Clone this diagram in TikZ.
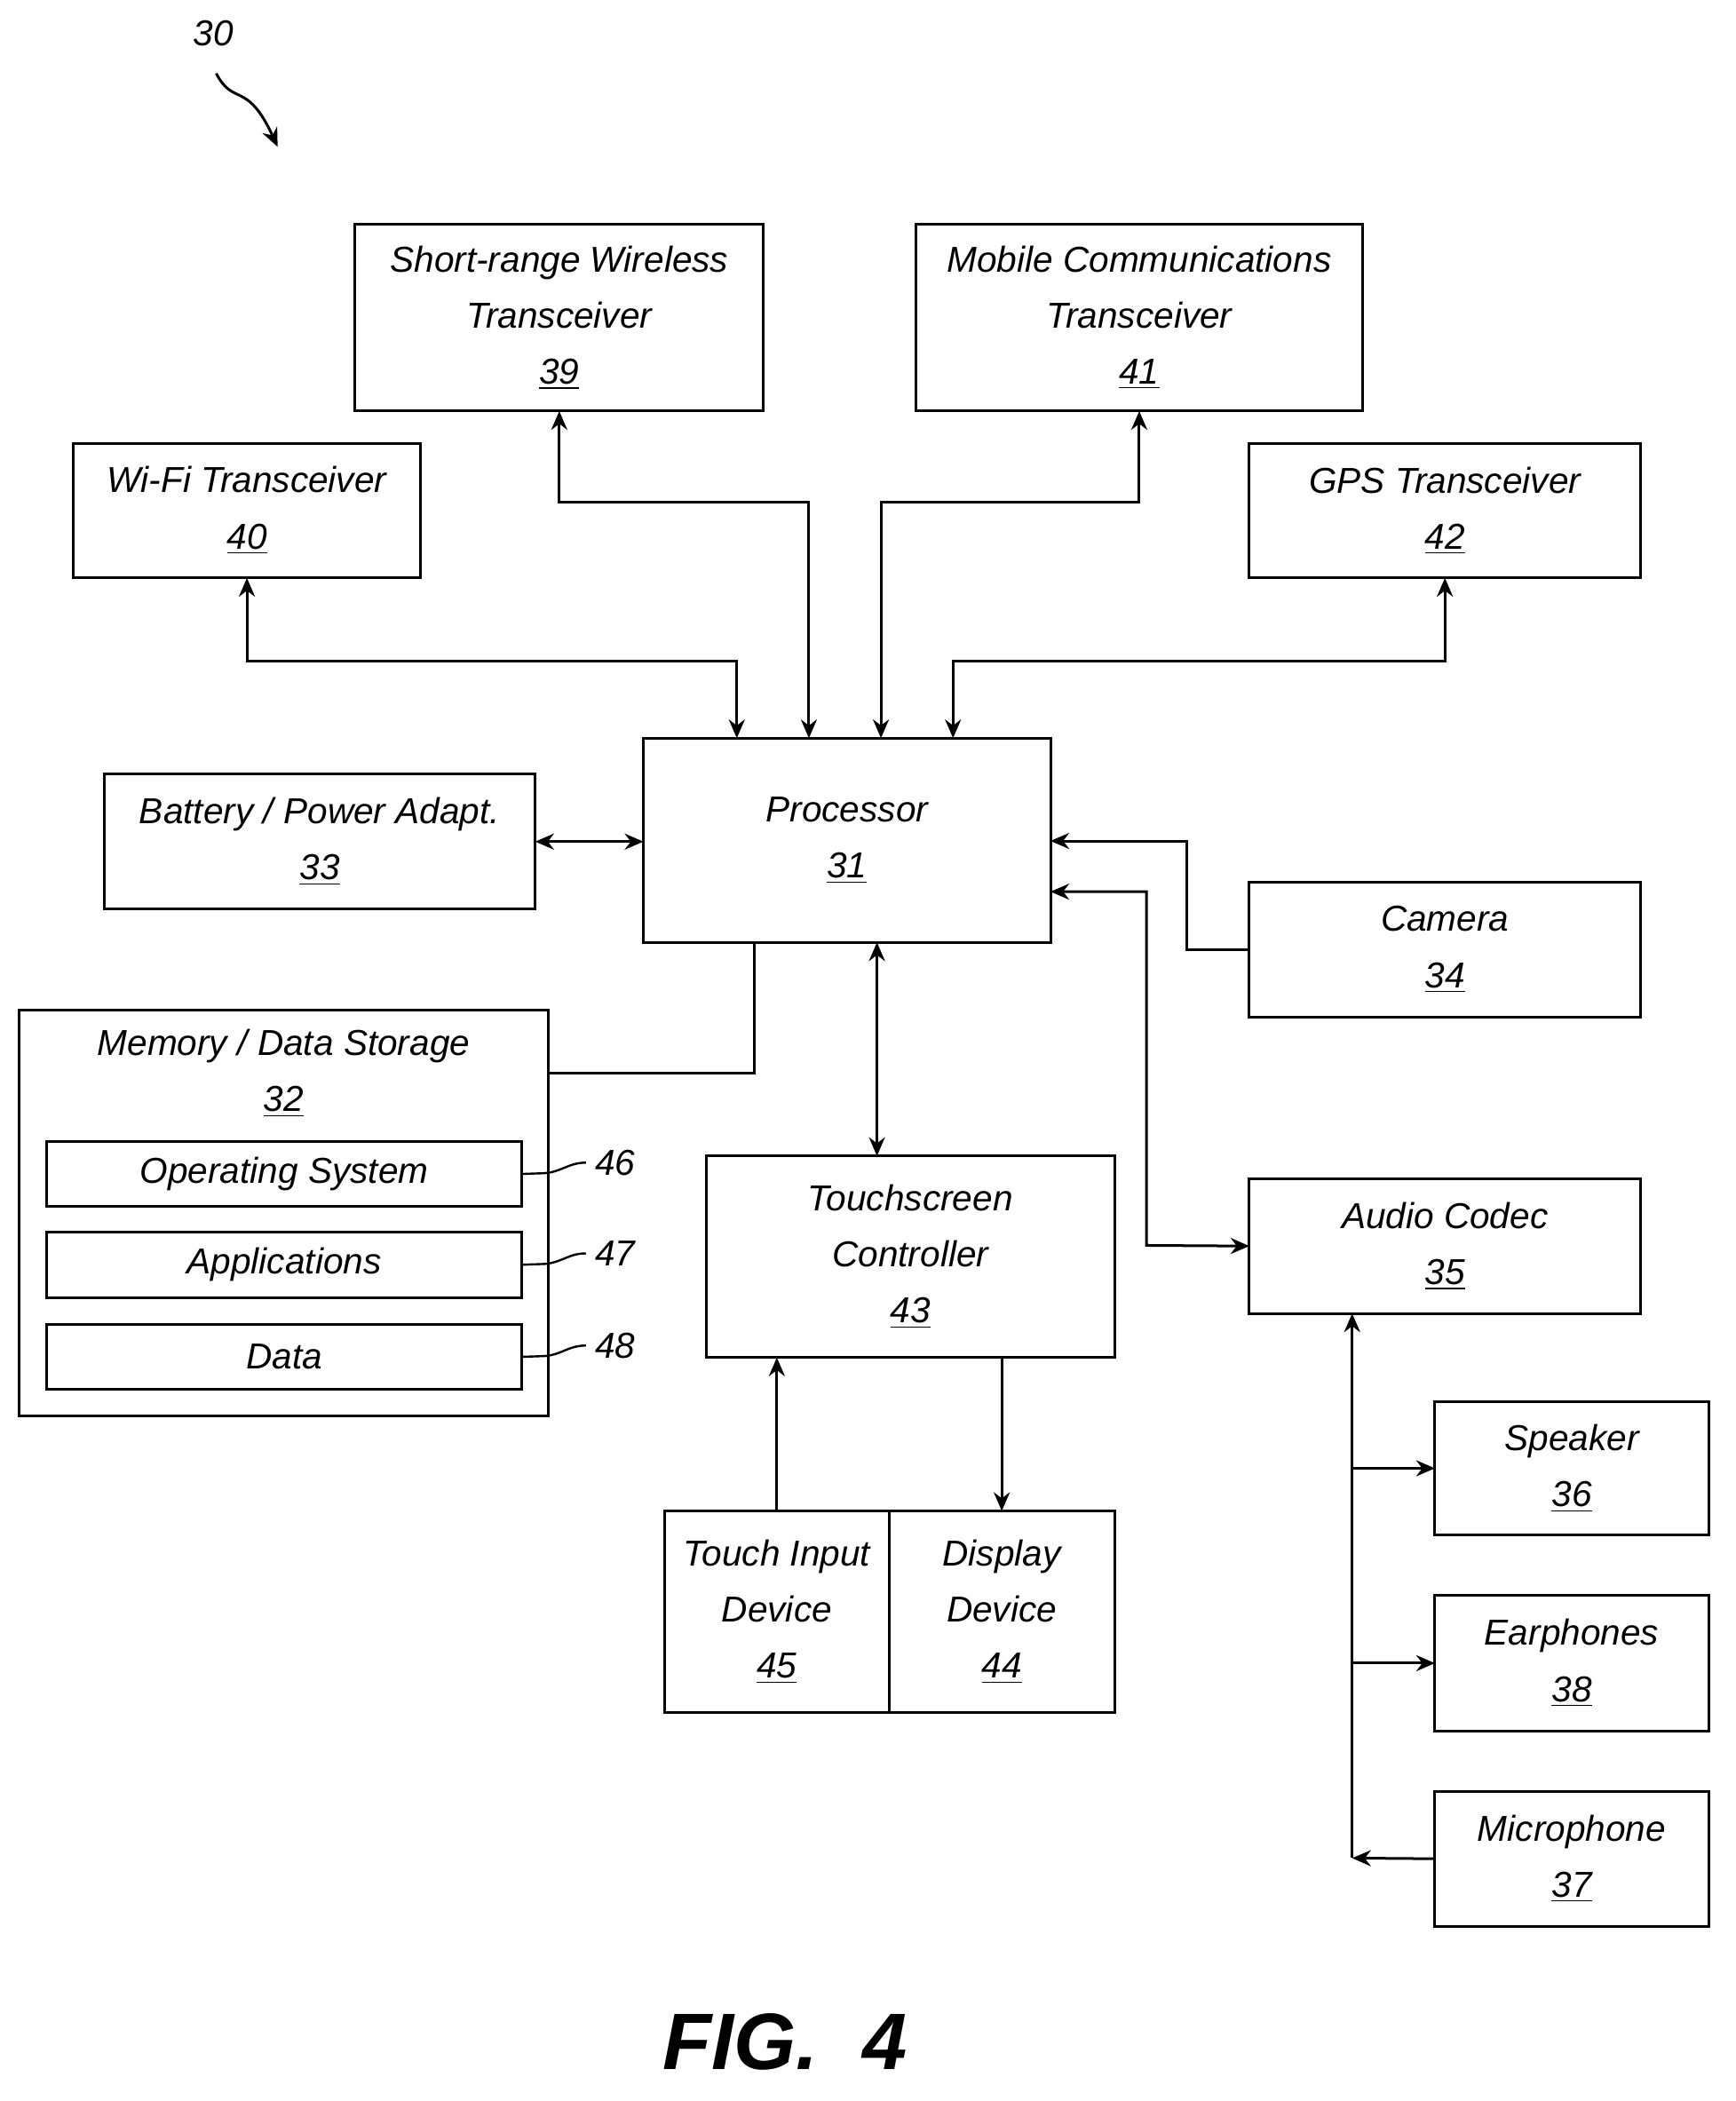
\documentclass[tikz,border=0pt]{standalone}
\usepackage{fontspec}
\setmainfont{Liberation Sans}
\usetikzlibrary{arrows.meta,calc}
\tikzset{
  box/.style={draw, line width=1pt, align=center, inner sep=0pt, outer sep=0pt,
    font=\itshape\fontsize{13.5}{21}\selectfont},
  inner/.style={box, minimum width=178pt, minimum height=24.5pt},
  conn/.style={line width=1pt, {Stealth[length=7pt,width=6pt]}-{Stealth[length=7pt,width=6pt]}},
  one/.style={line width=1pt, -{Stealth[length=7pt,width=6pt]}},
  lead/.style={line width=0.8pt},
  tag/.style={font=\itshape\fontsize{13.5}{16}\selectfont}
}
\newcommand{\num}[1]{\underline{#1}}
\begin{document}
\begin{tikzpicture}[x=0.5pt,y=-0.5pt]
\useasboundingbox (0,0) rectangle (1300,1574);
% top row
\node[box, minimum width=153pt, minimum height=70pt] (n39) at (419,238) {Short-range Wireless\\Transceiver\\\num{39}};
\node[box, minimum width=167.5pt, minimum height=70pt] (n41) at (853.5,238) {Mobile Communications\\Transceiver\\\num{41}};
\node[box, minimum width=130pt, minimum height=50.5pt] (n40) at (185,382.5) {Wi-Fi Transceiver\\\num{40}};
\node[box, minimum width=146.5pt, minimum height=50.5pt] (n42) at (1082.5,382.5) {GPS Transceiver\\\num{42}};
% middle
\node[box, minimum width=152.5pt, minimum height=76.5pt] (n31) at (634.5,629.5) {Processor\\\num{31}};
\node[box, minimum width=161.5pt, minimum height=50.5pt] (n33) at (239.5,630.5) {Battery / Power Adapt.\\\num{33}};
\node[box, minimum width=146.5pt, minimum height=50.5pt] (n34) at (1082.5,711.5) {Camera\\\num{34}};
% memory
\node[box, minimum width=198.5pt, minimum height=152pt] (n32) at (212.5,909) {};
\node[tag, align=center, font=\itshape\fontsize{13.5}{21}\selectfont] (t32) at (212.5,804) {Memory / Data Storage\\\num{32}};
\node[inner] (n46) at (213,879.5) {Operating System};
\node[inner] (n47) at (213,947.5) {Applications};
\node[inner] (n48) at (213,1016.5) {Data};
\node[tag] (l46) at (461,871) {46};
\node[tag] (l47) at (461,939) {47};
\node[tag] (l48) at (461,1008) {48};
\draw[lead] (n46.east) -- (405,879) .. controls (420,879) and (425,871) .. (l46.west);
\draw[lead] (n47.east) -- (405,947) .. controls (420,947) and (425,939) .. (l47.west);
\draw[lead] (n48.east) -- (405,1016) .. controls (420,1016) and (425,1008) .. (l48.west);
% lower
\node[box, minimum width=153pt, minimum height=75.5pt] (n43) at (682,941.5) {Touchscreen\\Controller\\\num{43}};
\node[box, minimum width=146.5pt, minimum height=50.5pt] (n35) at (1082.5,933.5) {Audio Codec\\\num{35}};
\node[box, minimum width=84pt, minimum height=75.5pt] (n45) at (582,1207.5) {Touch Input\\Device\\\num{45}};
\node[box, minimum width=84.5pt, minimum height=75.5pt] (n44) at (750.5,1207.5) {Display\\Device\\\num{44}};
\node[box, minimum width=102.5pt, minimum height=50pt] (n36) at (1177.5,1100) {Speaker\\\num{36}};
\node[box, minimum width=102.5pt, minimum height=51pt] (n38) at (1177.5,1246) {Earphones\\\num{38}};
\node[box, minimum width=102.5pt, minimum height=50.5pt] (n37) at (1177.5,1392.5) {Microphone\\\num{37}};
% connectors
\draw[conn] (n40.south) |- (552,495) -- ($(n31.north west)+(70,0)$);
\draw[conn] (n39.south) |- (606,376) -- ($(n31.north west)+(124,0)$);
\draw[conn] (n41.south) |- (660,376) -- ($(n31.north west)+(178,0)$);
\draw[conn] (n42.south) |- (714,495) -- ($(n31.north west)+(232,0)$);
\draw[conn] (n33.east) -- (n31.west |- n33.east);
\draw[one] (n34.west) -| (889,630) -- (n31.east |- 0,630);
\draw[conn] (n31.east |- 0,668) -| (859,933) -- (n35.west);
\draw[line width=1pt] (n32.east |- 0,804) -| (565,706);
\draw[conn] (657,706) -- (657,866);
\draw[one] (n45.north) -- (n45.north |- n43.south);
\draw[one] (n43.south -| n44.north) -- (n44.north);
\draw[one] (1013,1392) -- (1013,984);
\draw[one] (1013,1100) -- (n36.west);
\draw[one] (1013,1246) -- (n38.west);
\draw[one] (n37.west) -- (1013,1392);
% figure id
\node[tag] (n30) at (160,25) {30};
\coordinate (a30) at (208,110);
\draw[one] (162,55) .. controls (175,80) and (185,60) .. (a30);
\node[font=\bfseries\itshape\fontsize{30}{36}\selectfont] (fig) at (588,1530) {FIG.\ \ 4};
\end{tikzpicture}
\end{document}
